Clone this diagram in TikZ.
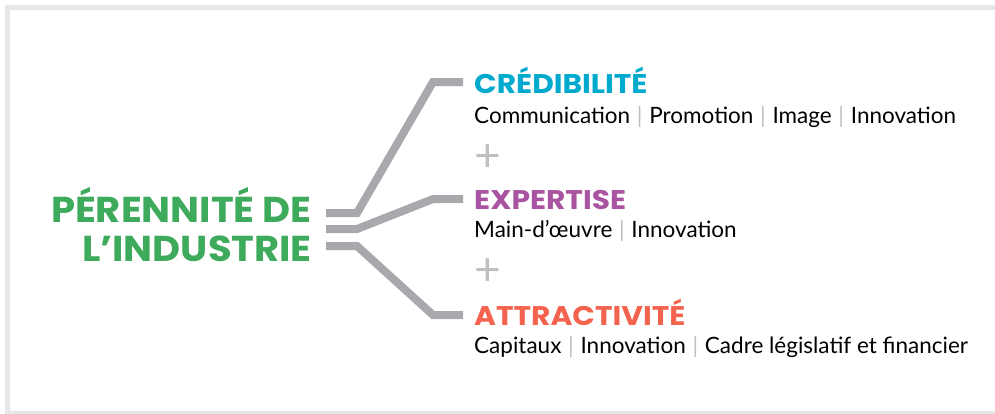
\documentclass[tikz,border=0pt]{standalone}
\usepackage{fontspec}
\setmainfont{Poppins}
\newfontfamily\bodyfont{Lato}
\newfontfamily\titlefont{Poppins}[FakeStretch=1.07]
\newfontfamily\headfont{Poppins}[FakeStretch=1.1]
\definecolor{titlegreen}{RGB}{61,170,92}
\definecolor{credcyan}{RGB}{0,169,206}
\definecolor{exppurple}{RGB}{168,84,160}
\definecolor{attrcoral}{RGB}{243,99,78}
\definecolor{linkgray}{RGB}{167,169,172}
\definecolor{framegray}{RGB}{230,231,232}
\definecolor{sepgray}{RGB}{190,191,193}
\newcommand{\sepbar}{\hspace{0.3em}{\color{sepgray}|}\hspace{0.3em}}
\tikzset{
  titletext/.style={inner sep=0pt, anchor=base east, text=titlegreen, font=\titlefont\fontsize{36}{40}\selectfont\bfseries},
  headtext/.style={inner sep=0pt, anchor=base west, font=\headfont\fontsize{27}{30}\selectfont\bfseries},
  bodytext/.style={inner sep=0pt, anchor=base west, text=black, font=\bodyfont\fontsize{22.5}{26}\selectfont},
  plustext/.style={inner sep=0pt, text=sepgray, font=\bodyfont\fontsize{46}{46}\selectfont},
  link/.style={draw=linkgray, line width=8pt, line cap=butt, line join=miter},
}
\begin{document}
\begin{tikzpicture}[x=1pt,y=-1pt]
\useasboundingbox (0,0) rectangle (995,413);
\begin{scope}
\clip (0,0) rectangle (995,413);
\draw[framegray, line width=5pt] (7.5,7.5) rectangle (1010,413.5);
\end{scope}
% title
\node[titletext] (t1) at (312,222) {PÉRENNITÉ DE};
\node[titletext] (t2) at (312,261) {L’INDUSTRIE};
% headings
\node[headtext, text=credcyan] (h1) at (474,93) {CRÉDIBILITÉ};
\node[headtext, text=exppurple] (h2) at (474,209) {EXPERTISE};
\node[headtext, text=attrcoral] (h3) at (474,325) {ATTRACTIVITÉ};
% bodies
\node[bodytext] (b1) at (474,123) {Communication\sepbar Promotion\sepbar Image\sepbar Innovation};
\node[bodytext] (b2) at (474,237) {Main-d’œuvre\sepbar Innovation};
\node[bodytext] (b3) at (474,353) {Capitaux\sepbar Innovation\sepbar Cadre législatif et financier};
% plus signs
\node[plustext] (p1) at (488,158) {+};
\node[plustext] (p2) at (488,272) {+};
% connector points
\coordinate (s1) at (326,213);
\coordinate (k1) at (357,213);
\coordinate (m1) at (433,82);
\coordinate (e1) at (463,82);
\coordinate (s2) at (326,229);
\coordinate (k2) at (357,229);
\coordinate (m2) at (433,199);
\coordinate (e2) at (463,199);
\coordinate (s3) at (326,246);
\coordinate (k3) at (357,246);
\coordinate (m3) at (433,315);
\coordinate (e3) at (463,315);
\draw[link] (s1) -- (k1) -- (m1) -- (e1);
\draw[link] (s2) -- (k2) -- (m2) -- (e2);
\draw[link] (s3) -- (k3) -- (m3) -- (e3);
\end{tikzpicture}
\end{document}
